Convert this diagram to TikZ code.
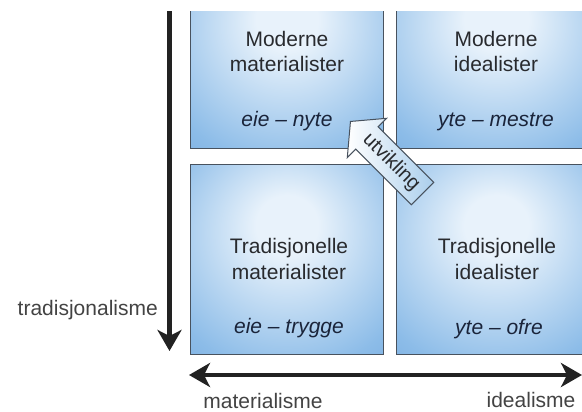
\documentclass[tikz,border=0pt]{standalone}
\usepackage{fontspec}
\setmainfont{Liberation Sans}
\usetikzlibrary{arrows.meta,shapes.arrows}
\definecolor{boxinner}{RGB}{232,242,251}
\definecolor{boxmid}{RGB}{140,188,232}
\definecolor{boxouter}{RGB}{72,134,204}
\definecolor{boxline}{RGB}{72,82,94}
\definecolor{txt}{RGB}{40,42,46}
\definecolor{kw}{RGB}{26,36,58}
\definecolor{axisgray}{RGB}{34,34,34}
\definecolor{arrowblue}{RGB}{170,206,236}
\pgfdeclareradialshading{quadshade}{\pgfpoint{0bp}{10bp}}{color(0bp)=(boxinner); color(8bp)=(boxinner); color(35bp)=(boxmid); color(72bp)=(boxouter)}
\tikzset{axtip/.tip={Stealth[length=21pt,width=24pt,inset=6pt]}}
\begin{document}
\begin{tikzpicture}[x=1pt,y=-1pt,
        quad/.style={draw=boxline, line width=1pt, shading=quadshade, inner sep=0pt,
            minimum width=193pt, minimum height=190pt, anchor=north west},
        lbl/.style={text=txt, font=\fontsize{21}{25}\selectfont, anchor=base, inner sep=0pt},
        motto/.style={lbl, text=kw, font=\fontsize{21}{25}\selectfont\itshape},
        axislbl/.style={lbl, text=axisgray!85, text depth=0pt},
        axis/.style={line width=4.5pt, draw=axisgray},
        devarrow/.style={single arrow, draw=boxline, line width=1pt,
            left color=white, right color=arrowblue,
            single arrow head extend=12pt, single arrow tip angle=100,
            minimum height=102pt, inner xsep=4pt, inner ysep=6pt,
            text=txt, font=\fontsize{20}{24}\selectfont}]
    \useasboundingbox (0,0) rectangle (582,412);
    \clip (0,12) rectangle (582,412);
    \node[quad] (tl) at (190,-42) {};
    \node[quad, minimum width=200pt] (tr) at (396,-42) {};
    \node[quad] (bl) at (190,164) {};
    \node[quad, minimum width=200pt] (br) at (396,164) {};
    \node[lbl] (tl1) at (287,47) {Moderne};
    \node[lbl] (tl2) at (287,72) {materialister};
    \node[motto] (tl3) at (287,127) {eie -- nyte};
    \node[lbl] (tr1) at (496,47) {Moderne};
    \node[lbl] (tr2) at (496,72) {idealister};
    \node[motto] (tr3) at (496,127) {yte -- mestre};
    \node[lbl] (bl1) at (289,253) {Tradisjonelle};
    \node[lbl] (bl2) at (289,279) {materialister};
    \node[motto] (bl3) at (289,333) {eie -- trygge};
    \node[lbl] (br1) at (497,253) {Tradisjonelle};
    \node[lbl] (br2) at (497,279) {idealister};
    \node[motto] (br3) at (499,334) {yte -- ofre};
    \node[devarrow, rotate=-45, shape border rotate=180, anchor=tip] (utv) at (350,121) {utvikling};
    \coordinate (vtop) at (169.5,-42);
    \coordinate (vbot) at (169.5,351);
    \coordinate (hleft) at (189,375);
    \coordinate (hright) at (582,375);
    \draw[axis, -axtip] (vtop) -- (vbot);
    \draw[axis, axtip-axtip] (hleft) -- (hright);
    \node[axislbl, anchor=base east] (trad) at (158,315) {tradisjonalisme};
    \node[axislbl] (mat) at (263,408) {materialisme};
    \node[axislbl] (ide) at (531,407) {idealisme};
\end{tikzpicture}
\end{document}
